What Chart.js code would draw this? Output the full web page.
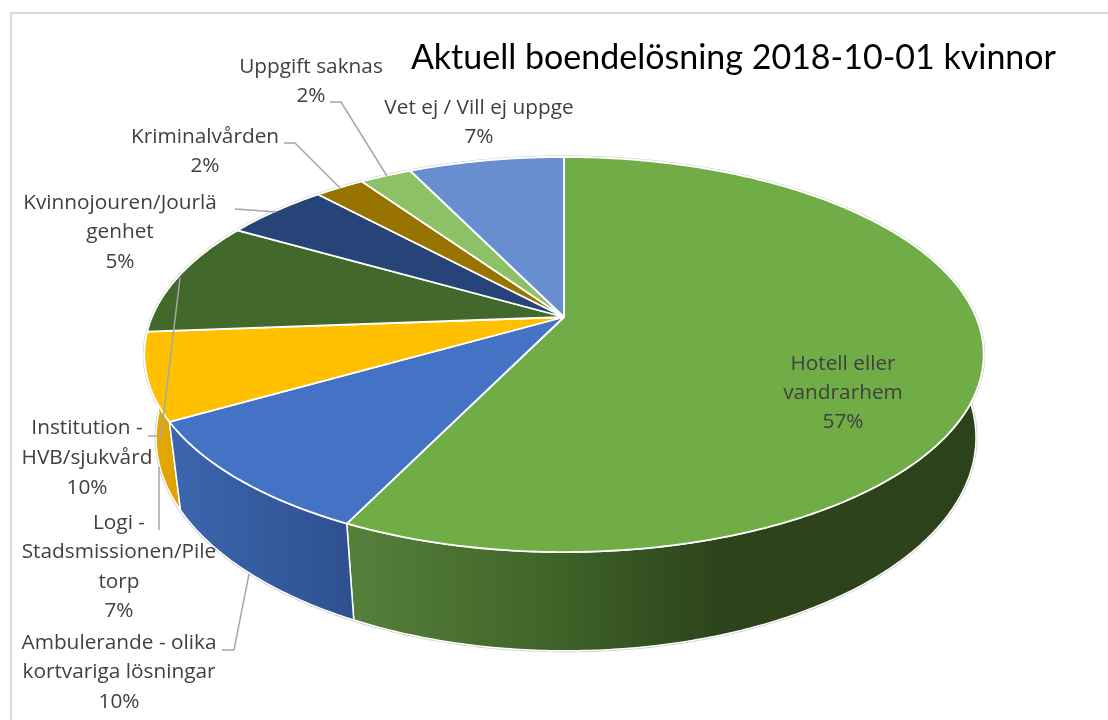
<!DOCTYPE html>
<html>
<head>
<meta charset="utf-8">
<title>Aktuell boendelösning 2018-10-01 kvinnor</title>
<script src="https://cdn.jsdelivr.net/npm/chart.js@4"></script>
<style>
  html, body { margin: 0; padding: 0; background: #fff; overflow: hidden; }
  canvas { display: block; }
</style>
</head>
<body>
<canvas id="pie" width="1108" height="720"></canvas>
<script>
const categories = ['Hotell eller vandrarhem', 'Ambulerande - olika kortvariga lösningar', 'Logi - Stadsmissionen/Piletorp', 'Institution - HVB/sjukvård', 'Kvinnojouren/Jourlägenhet', 'Kriminalvården', 'Uppgift saknas', 'Vet ej / Vill ej uppge'];
const values = [57.2, 9.5, 7.1, 9.5, 4.8, 2.3, 2.4, 7.2];
const labelLines = [
  ['Hotell eller', 'vandrarhem'],
  ['Ambulerande - olika', 'kortvariga lösningar'],
  ['Logi -', 'Stadsmissionen/Pile', 'torp'],
  ['Institution -', 'HVB/sjukvård'],
  ['Kvinnojouren/Jourlä', 'genhet'],
  ['Kriminalvården'],
  ['Uppgift saknas'],
  ['Vet ej / Vill ej uppge']
];
const titleText = 'Aktuell boendelösning 2018-10-01 kvinnor';

// colours
const topColors = ['#70ad47', '#4472c4', '#ffc000', '#43682b', '#264478', '#997300', '#8cc168', '#698ed0'];
const sideStops = [
  [[350, '#55803a'], [560, '#3f6229'], [720, '#2c441b'], [985, '#2c421a']],
  [[172, '#3b66ad'], [355, '#2f5090']],
  [[145, '#e6aa00'], [182, '#dca200']],
  [[145, '#2e4a1e'], [300, '#2e4a1e']],
  [[230, '#1b3054'], [320, '#1b3054']],
  [[310, '#6b5100'], [365, '#6b5100']],
  [[360, '#62873f'], [415, '#62873f']],
  [[410, '#4a6392'], [565, '#4a6392']]
];

// label layout: centre x and the y of each text line
const labelX = [843, 119, 119, 87, 120, 205, 311, 479];
const labelY = [
  [364, 393, 422],
  [643, 672, 702],
  [523, 552, 582, 611],
  [428, 458, 488],
  [203, 232, 262],
  [137, 166],
  [67, 96],
  [108, 137]
];
const leaders = [
  [[222, 650], [234, 650], [249, 574]],
  [[159, 530], [159, 467]],
  [[148, 436], [161, 436], [180, 278]],
  [[235, 209], [250, 210], [276, 212]],
  [[284, 143], [295, 143], [340, 188]],
  [[330, 102], [341, 102], [387, 176]]
];

// perspective of the disc: apex, radii, foreshortening, thickness
const cx = 564, cy = 317, radX = 412, radY = 190.4, persp = 0.19, thick = 80, bottomShrink = 0.977, bottomShift = 2;

function project(angle, down) {
  const u = Math.cos(angle), v = Math.sin(angle);
  const w = 1 - persp * v;
  const x = radX * u / w, y = radY * v / w;
  if (!down) return [cx + x, cy + y];
  return [cx + bottomShift + x * bottomShrink, cy + y + thick / w];
}

function rimPoints(a0, a1, down) {
  const n = Math.max(2, Math.ceil(Math.abs(a1 - a0) / 0.01));
  const pts = [];
  for (let i = 0; i <= n; i++) pts.push(project(a0 + (a1 - a0) * i / n, down));
  return pts;
}

function tracePoints(ctx, pts, first) {
  pts.forEach((p, i) => {
    if (i === 0 && first) ctx.moveTo(p[0], p[1]);
    else ctx.lineTo(p[0], p[1]);
  });
}

const tiltedPie = {
  id: 'tiltedPie',
  beforeDraw(chart) {
    // frame of the original picture
    const ctx = chart.ctx;
    ctx.save();
    ctx.fillStyle = '#fff';
    ctx.fillRect(0, 0, chart.width, chart.height);
    ctx.fillStyle = '#d9d9d9';
    ctx.fillRect(10, 12, 1098, 2);
    ctx.fillRect(10, 12, 2, 708);
    ctx.restore();
  },
  beforeDatasetsDraw(chart) {
    const ctx = chart.ctx;
    const arcs = chart.getDatasetMeta(0).data;
    ctx.save();
    ctx.lineJoin = 'round';

    // grey halo round the whole disc
    ctx.strokeStyle = '#cccccc';
    ctx.lineWidth = 3;
    [false, true].forEach(down => {
      ctx.beginPath();
      tracePoints(ctx, rimPoints(0, Math.PI * 2, down), true);
      ctx.closePath();
      ctx.stroke();
    });

    // side walls, back ones first
    const order = arcs.map((a, i) => i).sort((p, q) =>
      Math.sin((arcs[p].startAngle + arcs[p].endAngle) / 2) - Math.sin((arcs[q].startAngle + arcs[q].endAngle) / 2));
    order.forEach(i => {
      const arc = arcs[i];
      const stops = sideStops[i];
      const grad = ctx.createLinearGradient(stops[0][0], 0, stops[stops.length - 1][0], 0);
      const span = stops[stops.length - 1][0] - stops[0][0];
      stops.forEach(s => grad.addColorStop((s[0] - stops[0][0]) / span, s[1]));
      ctx.beginPath();
      tracePoints(ctx, rimPoints(arc.startAngle, arc.endAngle, false), true);
      tracePoints(ctx, rimPoints(arc.endAngle, arc.startAngle, true), false);
      ctx.closePath();
      ctx.fillStyle = grad;
      ctx.fill();
      ctx.strokeStyle = '#fff';
      ctx.lineWidth = 1.5;
      ctx.stroke();
    });

    // top face
    arcs.forEach((arc, i) => {
      ctx.beginPath();
      ctx.moveTo(cx, cy);
      tracePoints(ctx, rimPoints(arc.startAngle, arc.endAngle, false), false);
      ctx.closePath();
      ctx.fillStyle = topColors[i];
      ctx.fill();
      ctx.strokeStyle = '#fff';
      ctx.lineWidth = 1.8;
      ctx.stroke();
    });
    ctx.restore();
    return false; // the flat pie itself is replaced by the tilted one
  },
  afterDraw(chart) {
    const ctx = chart.ctx;
    ctx.save();
    ctx.strokeStyle = '#a6a6a6';
    ctx.lineWidth = 1.5;
    leaders.forEach(line => {
      ctx.beginPath();
      tracePoints(ctx, line, true);
      ctx.stroke();
    });

    const total = values.reduce((s, v) => s + v, 0);
    ctx.fillStyle = '#404040';
    ctx.font = '20.8px "Open Sans"';
    ctx.textAlign = 'center';
    ctx.textBaseline = 'middle';
    labelLines.forEach((lines, i) => {
      const pct = Math.round(values[i] / total * 100) + '%';
      lines.concat(pct).forEach((text, k) => ctx.fillText(text, labelX[i], labelY[i][k]));
    });
    ctx.restore();
  }
};

new Chart(document.getElementById('pie'), {
  type: 'pie',
  data: {
    labels: categories,
    datasets: [{ data: values, backgroundColor: topColors, borderWidth: 0 }]
  },
  options: {
    responsive: false,
    animation: false,
    layout: { padding: { top: 38, right: 52 } },
    plugins: {
      legend: { display: false },
      tooltip: { enabled: false },
      title: {
        display: true,
        text: titleText,
        align: 'end',
        color: '#000',
        padding: 0,
        font: { family: 'Lato', size: 34, weight: 'normal' }
      }
    }
  },
  plugins: [tiltedPie]
});
</script>
</body>
</html>
